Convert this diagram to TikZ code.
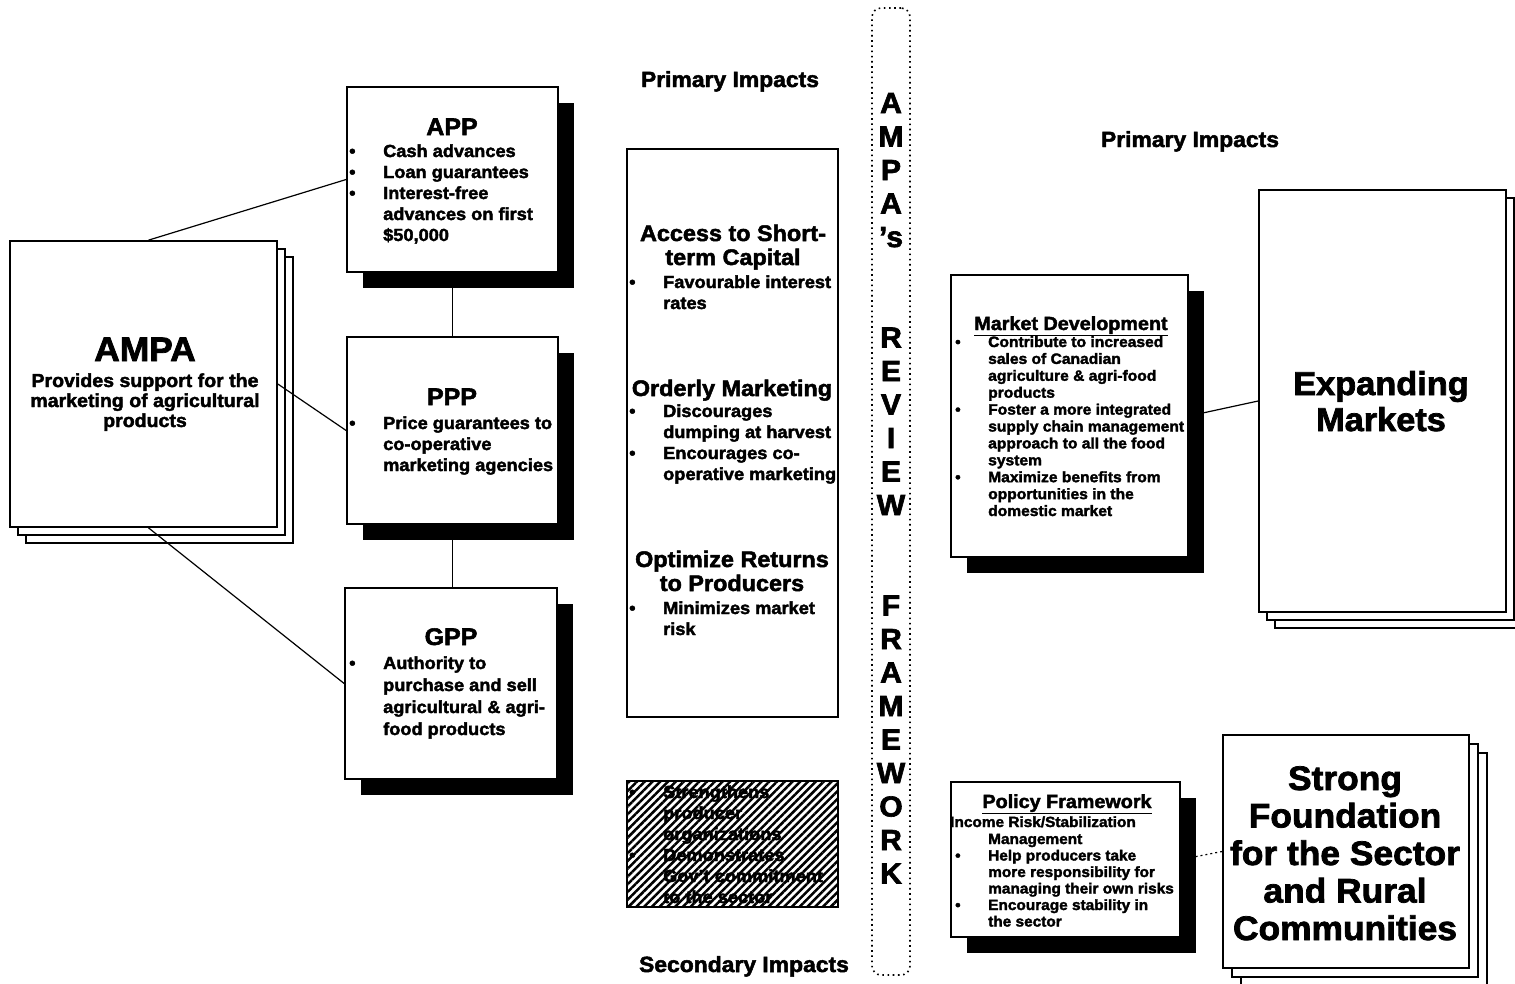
\documentclass[tikz,border=0pt]{standalone}
\usepackage{fontspec}
\setmainfont{Liberation Sans}[BoldFeatures={FakeBold=2.2, FakeStretch=1.04}]
\usetikzlibrary{shadows,backgrounds,patterns.meta}

\newcommand\fs[2]{\fontsize{#1}{#2}\selectfont}
% centred block of lines, baseline on the first line
\newcommand\ctab[1]{\begin{tabular}[t]{@{}c@{}}#1\end{tabular}}
% bulleted block: bullet column of width #1, baseline on the first line
\newcommand\btab[2]{\begin{tabular}[t]{@{}p{#1}@{}l@{}}#2\end{tabular}}
\newcommand\bu{\textbullet}

\tikzset{
  box/.style 2 args={draw=black, line width=1.7pt, fill=white, inner sep=0pt,
    minimum width=#1, minimum height=#2},
  shadowed/.style={drop shadow={shadow xshift=16pt, shadow yshift=-16pt,
    opacity=1, fill=black}},
  sheets/.style={copy shadow={shadow xshift=2*#1, shadow yshift=-2*#1, line width=1.5pt},
    copy shadow={shadow xshift=#1, shadow yshift=-#1, line width=1.5pt}},
  hatched/.style 2 args={draw=black, line width=1.7pt, inner sep=0pt,
    minimum width=#1, minimum height=#2,
    pattern={Lines[angle=45, distance=5.5pt, line width=2.5pt]}},
  conn/.style={draw=black, line width=1.2pt},
  txt/.style={inner sep=0pt, font=\bfseries\fs{17.5}{21}},
  label/.style={txt, anchor=base, font=\bfseries\fs{22}{24}},
}

\begin{document}
\begin{tikzpicture}[x=1pt, y=-1pt]
\useasboundingbox (0,0) rectangle (1515,983);

% ---------- programme boxes ----------
\node[box={267}{286}, sheets=8pt] (ampa) at (143.5,384) {};
\node[box={211}{185}, shadowed] (app) at (452.5,179.5) {};
\node[box={211}{187}, shadowed] (ppp) at (452.5,430.5) {};
\node[box={212}{191}, shadowed] (gpp) at (451,683.5) {};

\node[txt, anchor=base, font=\bfseries\fs{34}{38}] (ampat) at (145,361) {AMPA};
\node[txt, anchor=base, font=\bfseries\fs{18.8}{20}] (ampas) at (145,387)
  {\ctab{Provides support for the\\marketing of agricultural\\products}};

\node[txt, anchor=base, font=\bfseries\fs{24}{26}] (appt) at (452,135) {APP};
\node[txt, anchor=base west] (appl) at (349,157)
  {\btab{34pt}{\bu & Cash advances\\ \bu & Loan guarantees\\ \bu & Interest-free\\
   & advances on first\\ & \$50,000}};

\node[txt, anchor=base, font=\bfseries\fs{24}{26}] (pppt) at (452,405) {PPP};
\node[txt, anchor=base west] (pppl) at (349,429)
  {\btab{34pt}{\bu & Price guarantees to\\ & co-operative\\ & marketing agencies}};

\node[txt, anchor=base, font=\bfseries\fs{24}{26}] (gppt) at (451,645) {GPP};
\node[txt, anchor=base west, font=\bfseries\fs{17.5}{22}] (gppl) at (349,669)
  {\btab{34pt}{\bu & Authority to\\ & purchase and sell\\ & agricultural \& agri-\\
   & food products}};

\draw[conn] ([xshift=5pt]ampa.north) -- (app.west);
\draw[conn] (ampa.east) -- (ppp.west);
\draw[conn] ([xshift=5pt]ampa.south) -- (gpp.west);
\draw[conn] (app.south) -- (ppp.north);
\draw[conn] (ppp.south) -- (ppp.south |- gpp.north);

% ---------- impacts column ----------
\node[label] (prim1) at (730,87) {Primary Impacts};
\node[box={211}{568}] (impacts) at (732.5,433) {};

\node[txt, anchor=base, font=\bfseries\fs{22.5}{24}] (h1) at (733,241)
  {\ctab{Access to Short-\\term Capital}};
\node[txt, anchor=base west] (l1) at (629,288)
  {\btab{34pt}{\bu & Favourable interest\\ & rates}};

\node[txt, anchor=base, font=\bfseries\fs{22.5}{24}] (h2) at (732,396) {Orderly Marketing};
\node[txt, anchor=base west] (l2) at (629,417)
  {\btab{34pt}{\bu & Discourages\\ & dumping at harvest\\ \bu & Encourages co-\\
   & operative marketing}};

\node[txt, anchor=base, font=\bfseries\fs{22.5}{24}] (h3) at (732,567)
  {\ctab{Optimize Returns\\to Producers}};
\node[txt, anchor=base west] (l3) at (629,614)
  {\btab{34pt}{\bu & Minimizes market\\ & risk}};

\node[hatched={211}{126}] (second) at (732.5,844) {};
\node[txt, anchor=base west] (l4) at (629,798)
  {\btab{34pt}{\bu & Strengthens\\ & producer\\ & organizations\\ \bu & Demonstrates\\
   & Gov't commitment\\ & to the sector}};
\node[label] (sec) at (744,972) {Secondary Impacts};

% ---------- review framework band ----------
\node[draw=black, line width=1.6pt, dash pattern=on 1.6pt off 3.6pt, rounded corners=9pt,
  minimum width=38, minimum height=967, inner sep=0pt] (band) at (891,491.5) {};
\node[txt, anchor=base, font=\bfseries\fs{29}{33.5}] (bandtext) at (891,113)
  {\ctab{A\\M\\P\\A\\'s\\ \\ \\R\\E\\V\\I\\E\\W\\ \\ \\F\\R\\A\\M\\E\\W\\O\\R\\K}};

% ---------- outcomes ----------
\node[label] (prim2) at (1190,147) {Primary Impacts};

\node[box={247}{422}, sheets=8pt] (em) at (1382.5,401) {};
\node[txt, anchor=base, font=\bfseries\fs{33}{36}] (emt) at (1381,395)
  {\ctab{Expanding\\Markets}};

\node[box={237}{282}, shadowed] (md) at (1069.5,416) {};
\node[txt, anchor=base, font=\bfseries\fs{19}{20}] (mdt) at (1071,330)
  {\underline{Market Development}};
\node[txt, anchor=base west, font=\bfseries\fs{15}{16.9}] (mdl) at (955,347)
  {\btab{33pt}{\bu & Contribute to increased\\ & sales of Canadian\\
   & agriculture \& agri-food\\ & products\\ \bu & Foster a more integrated\\
   & supply chain management\\ & approach to all the food\\ & system\\
   \bu & Maximize benefits from\\ & opportunities in the\\ & domestic market}};

\node[box={246}{233}, sheets=9pt] (sf) at (1346,851.5) {};
\node[txt, anchor=base, font=\bfseries\fs{34}{37.5}] (sft) at (1345,790)
  {\ctab{Strong\\Foundation\\for the Sector\\and Rural\\Communities}};

\node[box={229}{155}, shadowed] (pf) at (1065.5,859.5) {};
\node[txt, anchor=base, font=\bfseries\fs{19}{20}] (pft) at (1067,808)
  {\underline{Policy Framework}};
\node[txt, anchor=base west, font=\bfseries\fs{14.8}{16.5}] (pfs) at (950,827)
  {Income Risk/Stabilization};
\node[txt, anchor=base west, font=\bfseries\fs{14.8}{16.5}] (pfl) at (955,844)
  {\btab{33pt}{ & Management\\ \bu & Help producers take\\ & more responsibility for\\
   & managing their own risks\\ \bu & Encourage stability in\\ & the sector}};

\begin{scope}[on background layer]
  \draw[conn] (md.east) -- (em.west);
  \draw[conn, dash pattern=on 2pt off 3pt] (pf.east) -- (sf.west);
\end{scope}
\end{tikzpicture}
\end{document}
